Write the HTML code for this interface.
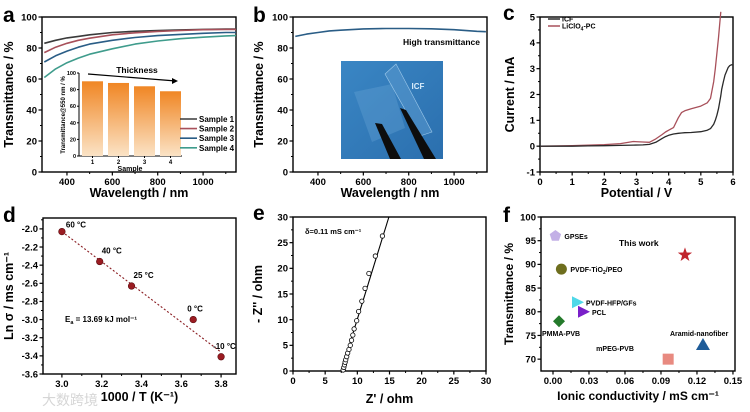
<!DOCTYPE html>
<html><head><meta charset="utf-8"><style>
html,body{margin:0;padding:0;background:#fff;}
svg{display:block;font-family:"Liberation Sans","Noto Sans CJK SC",sans-serif;font-weight:bold;}
</style></head><body>
<svg id="fig" width="750" height="412" viewBox="0 0 750 412" xmlns="http://www.w3.org/2000/svg">
<defs>
<linearGradient id="barg" x1="0" y1="0" x2="0" y2="1"><stop offset="0" stop-color="#f08624"/><stop offset="1" stop-color="#fbe3c6"/></linearGradient>
<linearGradient id="photog" x1="0" y1="0" x2="1" y2="1"><stop offset="0" stop-color="#3a86c4"/><stop offset="1" stop-color="#2b6fae"/></linearGradient>
</defs>
</svg>
<script>
// ---- data ----
const wl = [300,350,400,450,500,600,700,800,900,1000,1100,1140];
const sample1 = [83,85,86.5,87.5,88.5,90,90.8,91.3,91.7,92,92.2,92.2];
const sample2 = [77,80.5,83,85,86.3,88.5,89.8,90.7,91.3,91.8,92,92];
const sample3 = [71,75,78,80.5,82.5,85,86.8,88,88.8,89.5,90,90];
const sample4 = [61,66.5,70.5,73.5,76,79.5,82.5,84.5,86,87,87.8,88];
const insetSamples = [1,2,3,4];
const insetValues = [90,88,84,78];
const icfTrans = [87.5,89,90,91,91.5,92.3,92.6,92.6,92.4,91.8,90.8,90.5];
const lsvV = [0,1,1.5,2,2.5,2.9,3.2,3.4,3.6,3.8,3.9,4.0,4.15,4.3,4.4,4.5,4.7,5.0,5.2,5.3,5.4,5.45,5.5,5.55,5.6,5.62];
const lsvICF = [0,0,0.01,0.02,0.03,0.04,0.05,0.07,0.15,0.3,0.37,0.42,0.47,0.5,0.51,0.52,0.53,0.56,0.62,0.68,0.85,1.0,1.2,1.45,1.8,1.95];
const icfTailV = [5.65,5.7,5.75,5.8,5.85,5.9,5.95,6.0];
const icfTailI = [2.2,2.5,2.75,2.9,3.05,3.12,3.15,3.15];
const lsvLi = [0,0.02,0.04,0.06,0.1,0.18,0.16,0.15,0.28,0.45,0.55,0.62,0.72,1.1,1.3,1.37,1.45,1.55,1.68,1.85,2.5,3.0,3.6,4.2,4.9,5.2];
const arrX = [3.0,3.19,3.35,3.66,3.8];
const arrY = [-2.03,-2.36,-2.63,-3.0,-3.41];
const arrLabels = ["60 °C","40 °C","25 °C","0 °C","-10 °C"];
const fitX = [3.0,3.8];
const fitY = [-2.03,-3.36];
const eisRe = [7.8,7.9,8.0,8.1,8.2,8.35,8.5,8.7,8.9,9.1,9.3,9.5,9.9,10.2,10.7,11.2,11.8,12.8,13.9];
const eisIm = [0.2,0.7,1.2,1.7,2.2,2.8,3.5,4.2,5.0,6.0,7.0,8.2,9.8,11.6,13.6,16.1,19.0,22.4,26.3];
const eisFitRe = [7.5,14.9];
const eisFitIm = [0,30];
const cmpNames = ["GPSEs","PVDF-TiO2/PEO","PVDF-HFP/GFs","PCL","PMMA-PVB","mPEG-PVB","Aramid-nanofiber","This work"];
const cmpCond = [0.002,0.007,0.02,0.025,0.005,0.096,0.125,0.11];
const cmpTrans = [96,89,82,80,78,70,73,92];

const svg = document.getElementById('fig');
const NS = 'http://www.w3.org/2000/svg';
function mk(tag, attrs, parent){
  const e = document.createElementNS(NS, tag);
  for (const k in attrs) e.setAttribute(k, attrs[k]);
  (parent||svg).appendChild(e);
  return e;
}
function txt(x,y,s,size,anchor,name,extra){
  const t = mk('text',Object.assign({x:x,y:y,'font-size':size,'text-anchor':anchor||'start',fill:'#000'},extra||{}));
  t.textContent = s;
  
  
  return t;
}
function axes(c){
  const g = mk('g',{});
  
  
  const sx = v => c.x0 + (v - c.dx[0])/(c.dx[1]-c.dx[0])*(c.x1-c.x0);
  const sy = v => c.y1 - (v - c.dy[0])/(c.dy[1]-c.dy[0])*(c.y1-c.y0);
  const frame = mk('rect',{x:c.x0,y:c.y0,width:c.x1-c.x0,height:c.y1-c.y0,fill:'none',stroke:'#000','stroke-width':1.4},g);
  
  
  c.xt.forEach((v,i)=>{
    const X = sx(v);
    mk('line',{x1:X,x2:X,y1:c.y1,y2:c.y1+3.5,stroke:'#000','stroke-width':1.2},g);
    if (c.xm && v+c.xm<=c.dx[1]) mk('line',{x1:sx(v+c.xm),x2:sx(v+c.xm),y1:c.y1,y2:c.y1+2,stroke:'#000','stroke-width':1},g);
    const lab = txt(X,c.y1+13,c.xl[i],9.5,'middle','x-tick-label');
    g.appendChild(lab);
  });
  c.yt.forEach((v,i)=>{
    const Y = sy(v);
    mk('line',{x1:c.x0-3.5,x2:c.x0,y1:Y,y2:Y,stroke:'#000','stroke-width':1.2},g);
    if (c.ym && v+c.ym<=c.dy[1]) mk('line',{x1:c.x0-2,x2:c.x0,y1:sy(v+c.ym),y2:sy(v+c.ym),stroke:'#000','stroke-width':1},g);
    const lab = txt(c.x0-5,Y+3.3,c.yl[i],9.5,'end','y-tick-label');
    g.appendChild(lab);
  });
  txt((c.x0+c.x1)/2,c.xtY,c.xtitle,c.tsz||12.5,'middle','x-axis-title');
  txt(0,0,c.ytitle,c.tsz||12.5,'middle','y-axis-title',{transform:`translate(${c.ytX},${(c.y0+c.y1)/2}) rotate(-90)`});
  txt(c.lx,c.ly,c.letter,21,'start','panel-label-'+c.letter);
  return {sx,sy};
}
function poly(xs,ys,A,color,w,name,dash){
  const pts = xs.map((v,i)=>A.sx(v).toFixed(1)+','+A.sy(ys[i]).toFixed(1)).join(' ');
  const p = mk('polyline',{points:pts,fill:'none',stroke:color,'stroke-width':w||1.5,'stroke-linejoin':'round'});
  if (dash) p.setAttribute('stroke-dasharray',dash);
  
  
  return p;
}
const range = (a,b,s)=>{const r=[];for(let v=a;v<=b+1e-9;v+=s)r.push(+v.toFixed(4));return r;};

// ---- Panel a ----
const A = axes({name:'panel-a-axes',x0:42,x1:236,y0:17,y1:172,dx:[290,1145],dy:[0,100],
  xt:[400,600,800,1000],xl:['400','600','800','1000'],xm:100,
  yt:[0,20,40,60,80,100],yl:['0','20','40','60','80','100'],ym:10,
  xtitle:'Wavelength / nm',xtY:197,ytitle:'Transmittance / %',ytX:13,letter:'a',lx:3,ly:22});
const sCols = ['#3a3a3a','#a8505a','#2a5d86','#3f9c8c'];
[sample1,sample2,sample3,sample4].forEach((s,i)=>poly(wl.slice(0,11).concat([1145]),s,A,sCols[i],1.6,'sample-'+(i+1)+'-curve'));
// inset
const inset = mk('rect',{x:63,y:67,width:169,height:104,fill:'#fff'});


const I = {sx:v=>92.5+(v-1)*26, sy:v=>156 - v*0.83};
const iax = mk('path',{d:'M79,73 L79,156 L182,156',fill:'none',stroke:'#000','stroke-width':1});


[0,20,40,60,80,100].forEach(v=>{mk('line',{x1:77,x2:79,y1:I.sy(v),y2:I.sy(v),stroke:'#000'});txt(76,I.sy(v)+2,String(v),5.5,'end','inset-y-tick-label');});
insetSamples.forEach((s,i)=>{
  const b = mk('rect',{x:I.sx(s)-10.5,y:I.sy(insetValues[i]),width:21,height:156-I.sy(insetValues[i]),fill:'url(#barg)'});
  
  
  mk('line',{x1:I.sx(s),x2:I.sx(s),y1:156,y2:158,stroke:'#000'});
  txt(I.sx(s),164,String(s),6,'middle','inset-x-tick-label');
});
txt(130,171,'Sample',7,'middle','inset-x-axis-title');
txt(0,0,'Transmittance@550 nm / %',6,'middle','inset-y-axis-title',{transform:'translate(65,115) rotate(-90)'});
txt(137,73,'Thickness',8.5,'middle','thickness-label');
const arr = mk('path',{d:'M88,74 L176,81',stroke:'#000','stroke-width':1.2,fill:'none'});


mk('path',{d:'M178,81 L172,78 L172,84 Z',fill:'#000'});
['Sample 1','Sample 2','Sample 3','Sample 4'].forEach((n,i)=>{
  const y = 119+i*9.6;
  const l = mk('line',{x1:180,x2:197,y1:y,y2:y,stroke:sCols[i],'stroke-width':1.6});
  
  
  txt(199,y+3,n,8,'start','legend-label-sample-'+(i+1));
});

// ---- Panel b ----
const B = axes({name:'panel-b-axes',x0:293,x1:487,y0:17,y1:172,dx:[290,1145],dy:[0,100],
  xt:[400,600,800,1000],xl:['400','600','800','1000'],xm:100,
  yt:[0,20,40,60,80,100],yl:['0','20','40','60','80','100'],ym:10,
  xtitle:'Wavelength / nm',xtY:197,ytitle:'Transmittance / %',ytX:263,letter:'b',lx:253,ly:22});
poly(wl,icfTrans,B,'#2a5d86',1.6,'icf-transmittance-curve');
txt(480,45,'High transmittance',8.5,'end','high-transmittance-label');
const ph = mk('rect',{x:341,y:61,width:102,height:98,fill:'url(#photog)'});


mk('path',{d:'M354,92 L392,84 L405,128 L372,142 Z',fill:'#6aa6d6','fill-opacity':0.35});
mk('path',{d:'M385,74 L396,64 L432,132 L420,136 Z',fill:'#5e9bcf','fill-opacity':0.5,stroke:'#9cc8ea','stroke-width':0.6});
const tw1 = mk('path',{d:'M375,123 L382,124 L401,159 L390,159 Z',fill:'#0d0d0d'});


const tw2 = mk('path',{d:'M400,108 L406,110 L436,159 L424,159 Z',fill:'#0d0d0d'});


txt(418,89,'ICF',8,'middle','icf-photo-label',{fill:'#d8ecfb'});

// ---- Panel c ----
const C = axes({name:'panel-c-axes',x0:540,x1:733,y0:17,y1:172,dx:[0,6],dy:[-1,5],
  xt:[0,1,2,3,4,5,6],xl:['0','1','2','3','4','5','6'],xm:0.5,
  yt:[-1,0,1,2,3,4,5],yl:['-1','0','1','2','3','4','5'],ym:0.5,
  xtitle:'Potential / V',xtY:197,ytitle:'Current / mA',ytX:514,letter:'c',lx:503,ly:20});
poly(lsvV,lsvLi,C,'#a8505a',1.3,'liclo4-pc-curve');
poly(lsvV.concat(icfTailV),lsvICF.concat(icfTailI),C,'#2a2a2a',1.3,'icf-curve');
mk('line',{x1:548,x2:560,y1:19,y2:19,stroke:'#2a2a2a','stroke-width':1.5});
txt(562,21.5,'ICF',7,'start','legend-label-icf');
mk('line',{x1:548,x2:560,y1:26,y2:26,stroke:'#a8505a','stroke-width':1.5});
const lt = txt(562,28.5,'LiClO',7,'start','legend-label-liclo4-pc');
const ts = mk('tspan',{'font-size':5,dy:2},lt); ts.textContent='4';
const ts2 = mk('tspan',{dy:-2},lt); ts2.textContent='-PC';

// ---- Panel d ----
const D = axes({name:'panel-d-axes',x0:43,x1:236,y0:218,y1:374,dx:[2.905,3.875],dy:[-3.6,-1.88],
  xt:[3.0,3.2,3.4,3.6,3.8],xl:['3.0','3.2','3.4','3.6','3.8'],xm:0.1,
  yt:range(-3.6,-2.0,0.2),yl:['-3.6','-3.4','-3.2','-3.0','-2.8','-2.6','-2.4','-2.2','-2.0'],ym:0.1,
  xtitle:'1000 / T (K⁻¹)',xtY:401,ytitle:'Ln σ / ms cm⁻¹',ytX:13,letter:'d',lx:3,ly:222});
poly(fitX,fitY,D,'#8a1d22',1.1,'arrhenius-fit-line','2,2');
arrX.forEach((x,i)=>{
  const c = mk('circle',{cx:D.sx(x),cy:D.sy(arrY[i]),r:3.3,fill:'#9b1c22',stroke:'#5a0c10','stroke-width':0.6});
  
  
  const offs = [[4,-4],[2,-8],[2,-8],[-6,-8],[-8,-8]];
  txt(D.sx(x)+offs[i][0],D.sy(arrY[i])+offs[i][1],arrLabels[i],8,'start','temperature-label');
});
const ea = txt(65,322,'E',8,'start','activation-energy-label');
const es = mk('tspan',{'font-size':5.5,dy:2},ea); es.textContent='a';
const es2 = mk('tspan',{dy:-2},ea); es2.textContent=' = 13.69 kJ mol⁻¹';
txt(70,405,'大数跨境',14,'middle','watermark',{fill:'#d6d6d6','font-weight':'normal'});

// ---- Panel e ----
const E = axes({name:'panel-e-axes',x0:293,x1:486,y0:217,y1:371,dx:[0,30],dy:[0,30],
  xt:[0,5,10,15,20,25,30],xl:['0','5','10','15','20','25','30'],xm:2.5,
  yt:[0,5,10,15,20,25,30],yl:['0','5','10','15','20','25','30'],ym:2.5,
  xtitle:"Z' / ohm",xtY:403,ytitle:"- Z'' / ohm",ytX:262,letter:'e',lx:253,ly:220});
poly(eisFitRe,eisFitIm,E,'#000',1.1,'eis-fit-line');
eisRe.forEach((x,i)=>{
  const c = mk('circle',{cx:E.sx(x),cy:E.sy(eisIm[i]),r:2.2,fill:'#fff',stroke:'#000','stroke-width':0.8});
  
  
});
txt(305,234,'δ=0.11 mS cm⁻¹',7.5,'start','conductivity-label');

// ---- Panel f ----
const F = axes({name:'panel-f-axes',x0:541,x1:735,y0:217,y1:371,dx:[-0.01,0.1517],dy:[67.5,100],
  xt:[0,0.03,0.06,0.09,0.12,0.15],xl:['0.00','0.03','0.06','0.09','0.12','0.15'],xm:0.015,
  yt:[70,75,80,85,90,95,100],yl:['70','75','80','85','90','95','100'],ym:2.5,
  xtitle:'Ionic conductivity / mS cm⁻¹',xtY:400,ytitle:'Transmittance / %',ytX:513,letter:'f',lx:503,ly:222,tsz:12});
const mColors = ['#c3b0e6','#6e6e1e','#4fd8e8','#7a1fc9','#247a2b','#e88a80','#1f5c99','#c0242c'];
function marker(i){
  const x = F.sx(cmpCond[i]), y = F.sy(cmpTrans[i]); let d;
  const s = 6;
  if (i===0){ d=[0,1,2,3,4].map(k=>{const a=-Math.PI/2+k*2*Math.PI/5;return (x+s*Math.cos(a)).toFixed(1)+','+(y+s*Math.sin(a)).toFixed(1);}).join(' ');}
  else if (i===2||i===3){ d=`${x-5},${y-6} ${x+7},${y} ${x-5},${y+6}`; }
  else if (i===4){ d=`${x},${y-6} ${x+6},${y} ${x},${y+6} ${x-6},${y}`; }
  else if (i===6){ d=`${x},${y-7} ${x+7},${y+5} ${x-7},${y+5}`; }
  else if (i===7){ d=[...Array(10)].map((_,k)=>{const a=-Math.PI/2+k*Math.PI/5;const r=k%2?3:7.5;return (x+r*Math.cos(a)).toFixed(1)+','+(y+r*Math.sin(a)).toFixed(1);}).join(' ');}
  let el;
  if (i===1) el = mk('circle',{cx:x,cy:y,r:5.5,fill:mColors[i]});
  else if (i===5) el = mk('rect',{x:x-5.5,y:y-5.5,width:11,height:11,fill:mColors[i]});
  else el = mk('polygon',{points:d,fill:mColors[i]});
  
  
}
cmpNames.forEach((n,i)=>marker(i));
const lp = [[9,3],[9,3],[9,3],[9,3],[-17,15],[-72,-8],[-33,-9],[-66,-9]];
cmpNames.forEach((n,i)=>{
  const x = F.sx(cmpCond[i])+lp[i][0], y = F.sy(cmpTrans[i])+lp[i][1];
  const sz = i===7?8.5:7;
  if (i===1){
    const t = txt(x,y,'PVDF-TiO',sz,'start','label-pvdf-tio2-peo');
    const a = mk('tspan',{'font-size':5,dy:2},t); a.textContent='2';
    const b = mk('tspan',{dy:-2},t); b.textContent='/PEO';
  } else txt(x,y,n,sz,'start','label-'+n.toLowerCase().replace(/[^a-z0-9]+/g,'-'));
});
</script>
</body></html>
